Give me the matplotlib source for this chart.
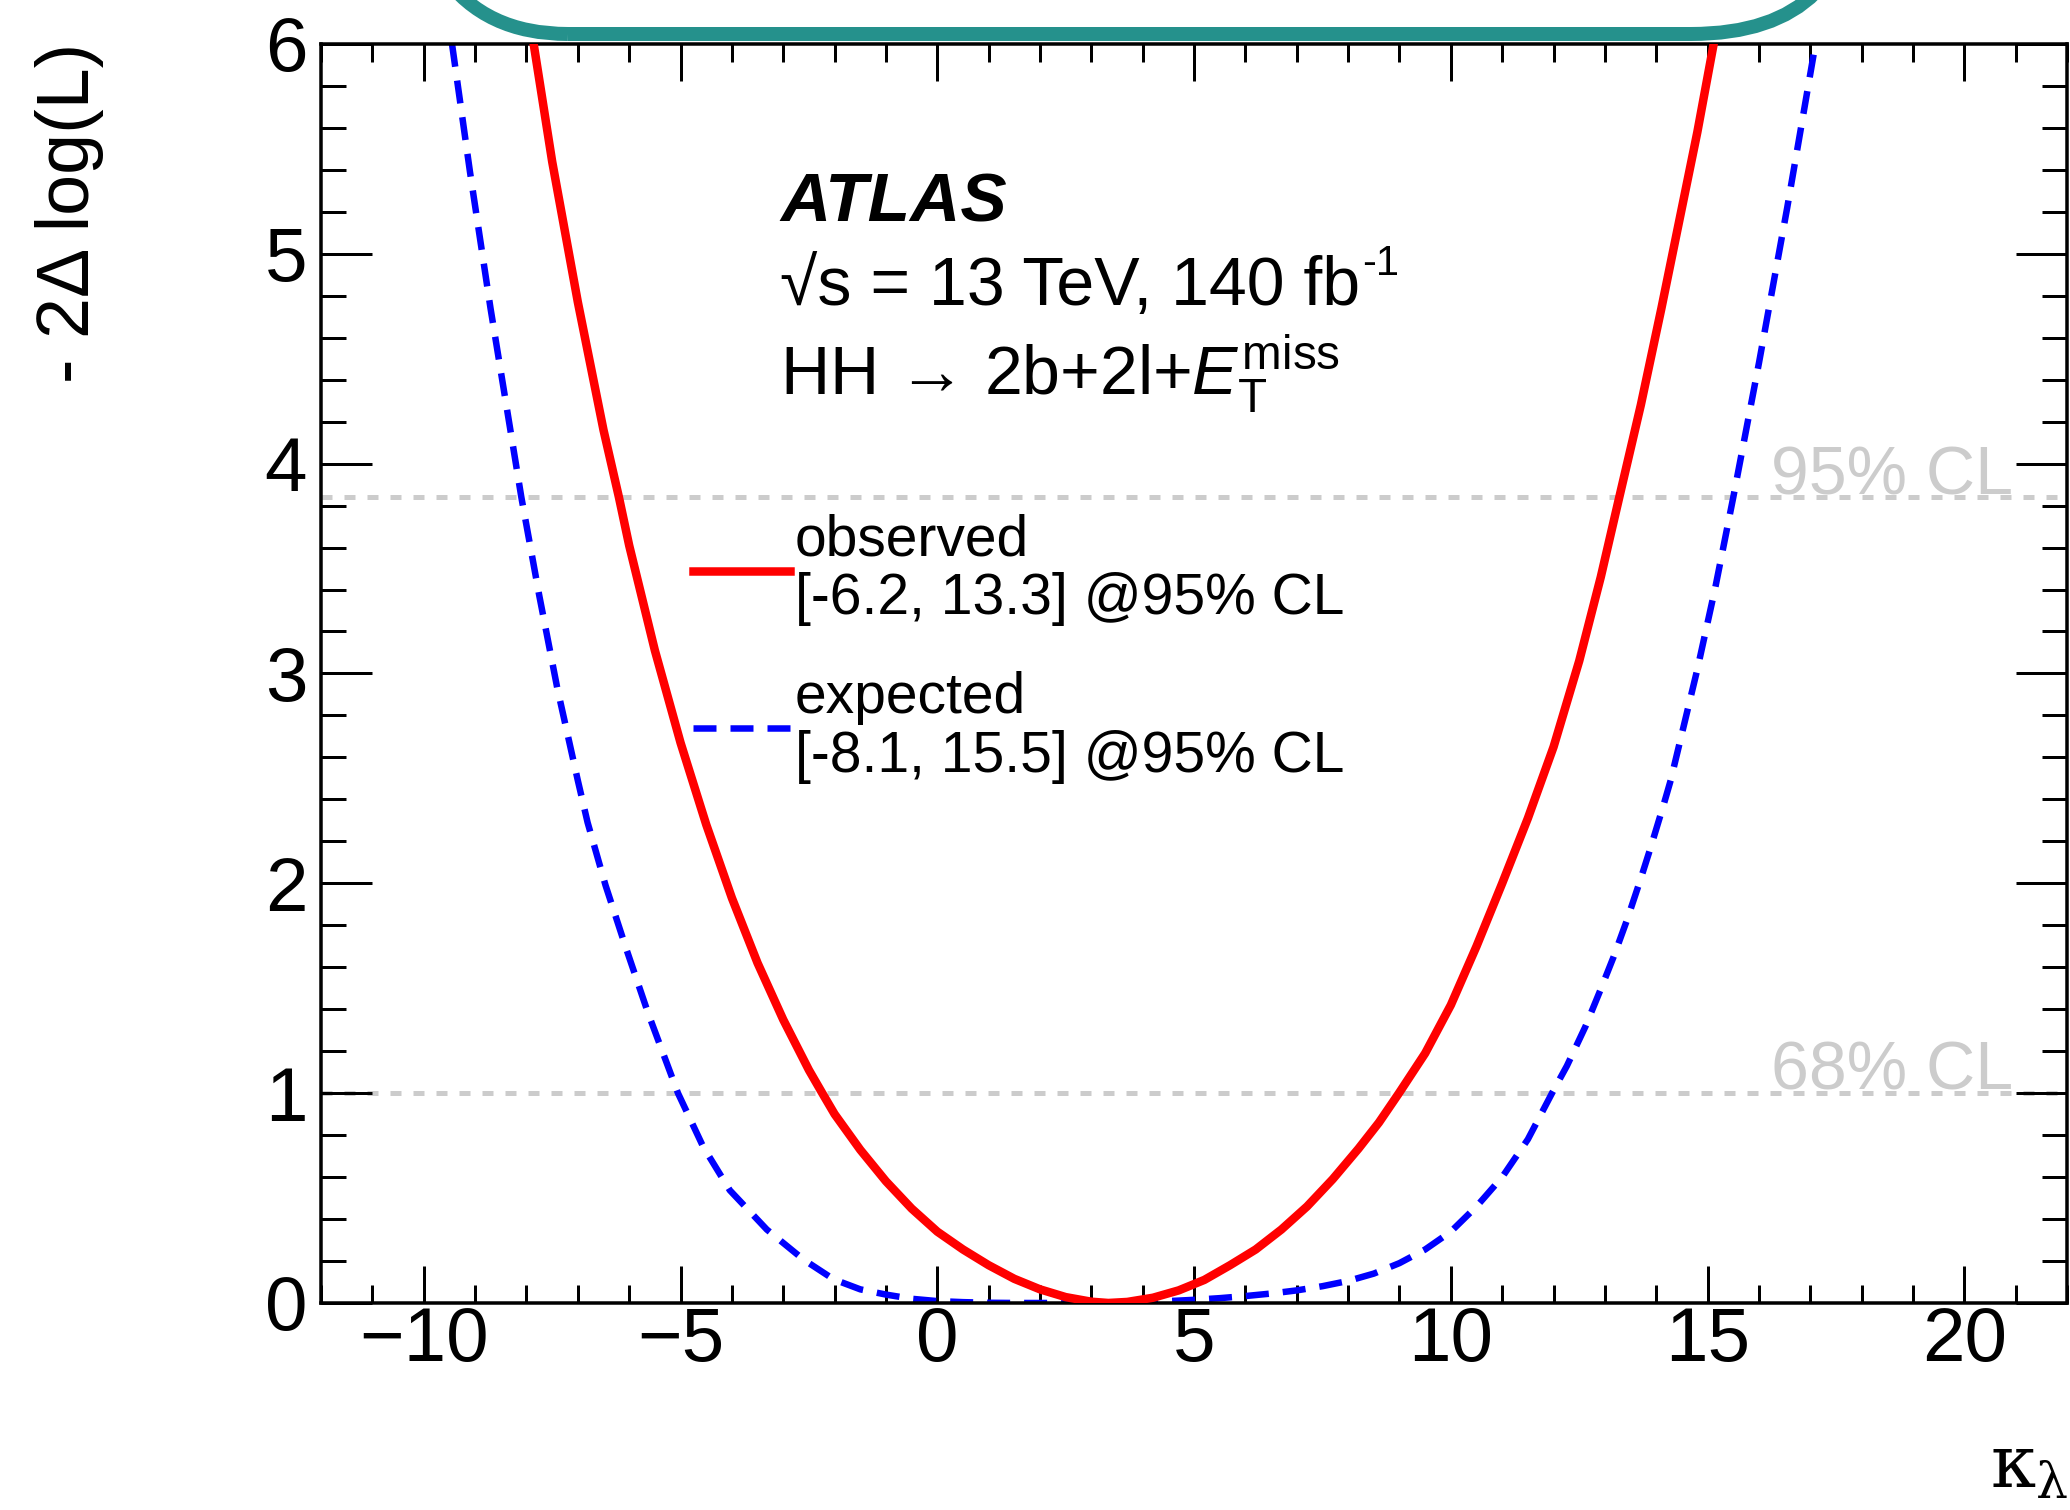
import numpy as np
import matplotlib
matplotlib.use("Agg")
import matplotlib.pyplot as plt
from matplotlib.patches import FancyBboxPatch
from matplotlib.transforms import IdentityTransform
from matplotlib.ticker import MultipleLocator

plt.rcParams['font.family'] = ['Liberation Sans', 'DejaVu Sans']
plt.rcParams['mathtext.fontset'] = 'custom'
plt.rcParams['mathtext.rm'] = 'Liberation Sans'
plt.rcParams['mathtext.it'] = 'Liberation Sans:italic'
plt.rcParams['mathtext.bf'] = 'Liberation Sans:bold'
plt.rcParams['lines.scale_dashes'] = False

# observed scan
kl_obs = [-7.86, -7.5, -7.0, -6.5, -6.2, -6.0, -5.5, -5.0, -4.5, -4.0,
          -3.5, -3.0, -2.5, -2.24, -2.0, -1.5, -1.0, -0.5, 0.0, 0.5,
          1.0, 1.5, 2.0, 2.5, 3.0, 3.33, 3.7, 4.2, 4.7, 5.2,
          5.7, 6.2, 6.7, 7.2, 7.7, 8.2, 8.6, 8.99, 9.5, 10.0,
          10.5, 11.0, 11.5, 12.0, 12.5, 12.92, 13.28, 13.7, 14.1, 14.5,
          14.8, 15.11]
nll_obs = [6.0, 5.44, 4.77, 4.16, 3.84, 3.61, 3.11, 2.67, 2.28, 1.93,
           1.62, 1.35, 1.11, 1.0, 0.90, 0.73, 0.58, 0.45, 0.34, 0.255,
           0.18, 0.115, 0.065, 0.028, 0.006, 0.0, 0.005, 0.025, 0.06, 0.11,
           0.18, 0.255, 0.35, 0.46, 0.59, 0.735, 0.86, 1.0, 1.19, 1.42,
           1.70, 2.0, 2.31, 2.65, 3.06, 3.46, 3.84, 4.28, 4.74, 5.22,
           5.58, 5.99]

# expected scan
kl_exp = [-9.45, -9.1, -8.7, -8.4, -8.1, -7.75, -7.4, -7.0, -6.81, -6.46,
          -6.06, -5.63, -5.05, -4.56, -4.04, -3.32, -2.6, -2.02, -1.5, -1.0,
          -0.5, 0.0, 0.5, 1.0, 1.5, 2.0, 2.5, 3.0, 3.5, 4.0,
          4.5, 5.0, 5.5, 6.0, 6.5, 7.0, 7.5, 8.0, 8.5, 9.0,
          9.5, 10.0, 10.5, 11.0, 11.5, 11.97, 12.26, 12.62, 12.91, 13.17,
          13.43, 13.69, 13.89, 14.15, 14.28, 14.8, 15.15, 15.5, 16.0, 16.55,
          17.1]
nll_exp = [6.0, 5.39, 4.74, 4.29, 3.84, 3.37, 2.93, 2.49, 2.29, 1.99,
           1.69, 1.38, 1.0, 0.745, 0.537, 0.35, 0.206, 0.113, 0.065, 0.04,
           0.02, 0.009, 0.004, 0.001, 0.0, 0.0, 0.0, 0.001, 0.002, 0.005,
           0.009, 0.015, 0.023, 0.033, 0.045, 0.06, 0.08, 0.105, 0.14, 0.19,
           0.255, 0.34, 0.46, 0.60, 0.78, 1.0, 1.13, 1.317, 1.49, 1.65,
           1.825, 2.016, 2.17, 2.38, 2.49, 3.02, 3.41, 3.84, 4.48, 5.22,
           6.0]

label_obs = "observed\n[-6.2, 13.3] @95% CL"
label_exp = "expected\n[-8.1, 15.5] @95% CL"
cl_levels = [1.0, 3.84]
cl_names = ["68% CL", "95% CL"]

PX = 72 / 100  # points per pixel
W, H = 2070, 1510

fig = plt.figure(figsize=(W / 100, H / 100), dpi=100)
ax = fig.add_axes([0.1551, 0.1371, 0.8435, 0.8338])

for lev, name in zip(cl_levels, cl_names):
    ax.axhline(lev, color='#cccccc', lw=5 * PX, dashes=(11 * PX, 12 * PX), zorder=1)
    ax.text(20.95, lev + 0.015, name, ha='right', va='baseline', color='#cccccc',
            fontsize=49, zorder=1)

ax.plot(kl_obs, nll_obs, color='#ff0000', lw=8.5 * PX, label=label_obs, zorder=3,
        solid_joinstyle='round')
ax.plot(kl_exp, nll_exp, color='#0000ff', lw=6.5 * PX, dashes=(23 * PX, 14 * PX),
        label=label_exp, zorder=2)

ax.set_xlim(-12, 22)
ax.set_ylim(0, 6)
ax.xaxis.set_major_locator(MultipleLocator(5))
ax.xaxis.set_minor_locator(MultipleLocator(1))
ax.yaxis.set_major_locator(MultipleLocator(1))
ax.yaxis.set_minor_locator(MultipleLocator(0.2))
ax.tick_params(which='both', direction='in', top=True, right=True, width=3 * PX)
ax.tick_params(axis='x', which='major', length=37 * PX, labelsize=55, pad=2)
ax.tick_params(axis='x', which='minor', length=18 * PX)
ax.tick_params(axis='y', which='major', length=51 * PX, labelsize=55, pad=10)
ax.tick_params(axis='y', which='minor', length=25 * PX)
for s in ax.spines.values():
    s.set_linewidth(3.5 * PX)

leg = ax.legend(loc='upper left', bbox_to_anchor=(0.2131, 0.627), frameon=False,
                fontsize=41, handlelength=1.7, handletextpad=0.09,
                labelspacing=0.8, borderpad=0, borderaxespad=0)
for t in leg.get_texts():
    t.set_linespacing(1.1)

# ATLAS label block
fig.text(780 / W, 1 - 222 / H, "ATLAS", fontsize=50, fontweight='bold',
         fontstyle='italic', va='baseline')
lumi = fig.text(780 / W, 1 - 305 / H, "√s = 13 TeV, 140 fb", fontsize=49,
                va='baseline')
renderer = fig.canvas.get_renderer()
bb = lumi.get_window_extent(renderer=renderer)
fig.text((bb.x1 + 2) / W, 1 - 275 / H, "-1", fontsize=30, va='baseline')
fig.text(780 / W, 1 - 395 / H, r"HH → 2b+2l+$E_{\mathrm{T}}^{\mathrm{miss}}$",
         fontsize=49, va='baseline')

# axis titles
fig.text(69 / W, 1 - 43 / H, "- 2Δ log(L)", rotation=90, ha='center', va='top',
         fontsize=53)
fig.text(1990 / W, 1 - 1488 / H, r"$\mathrm{\kappa}_{\mathrm{\lambda}}$",
         math_fontfamily='dejavuserif', fontsize=52, va='baseline', ha='left')

# teal rounded frame peeking in at the top
frame = FancyBboxPatch((402, 1476), 1857 - 402, 400,
                       boxstyle='round,pad=0,rounding_size=166',
                       transform=IdentityTransform(), fill=False,
                       ec='#25918c', lw=14 * PX, clip_on=False, zorder=10)
fig.add_artist(frame)

fig.savefig('out.png', dpi=100)
